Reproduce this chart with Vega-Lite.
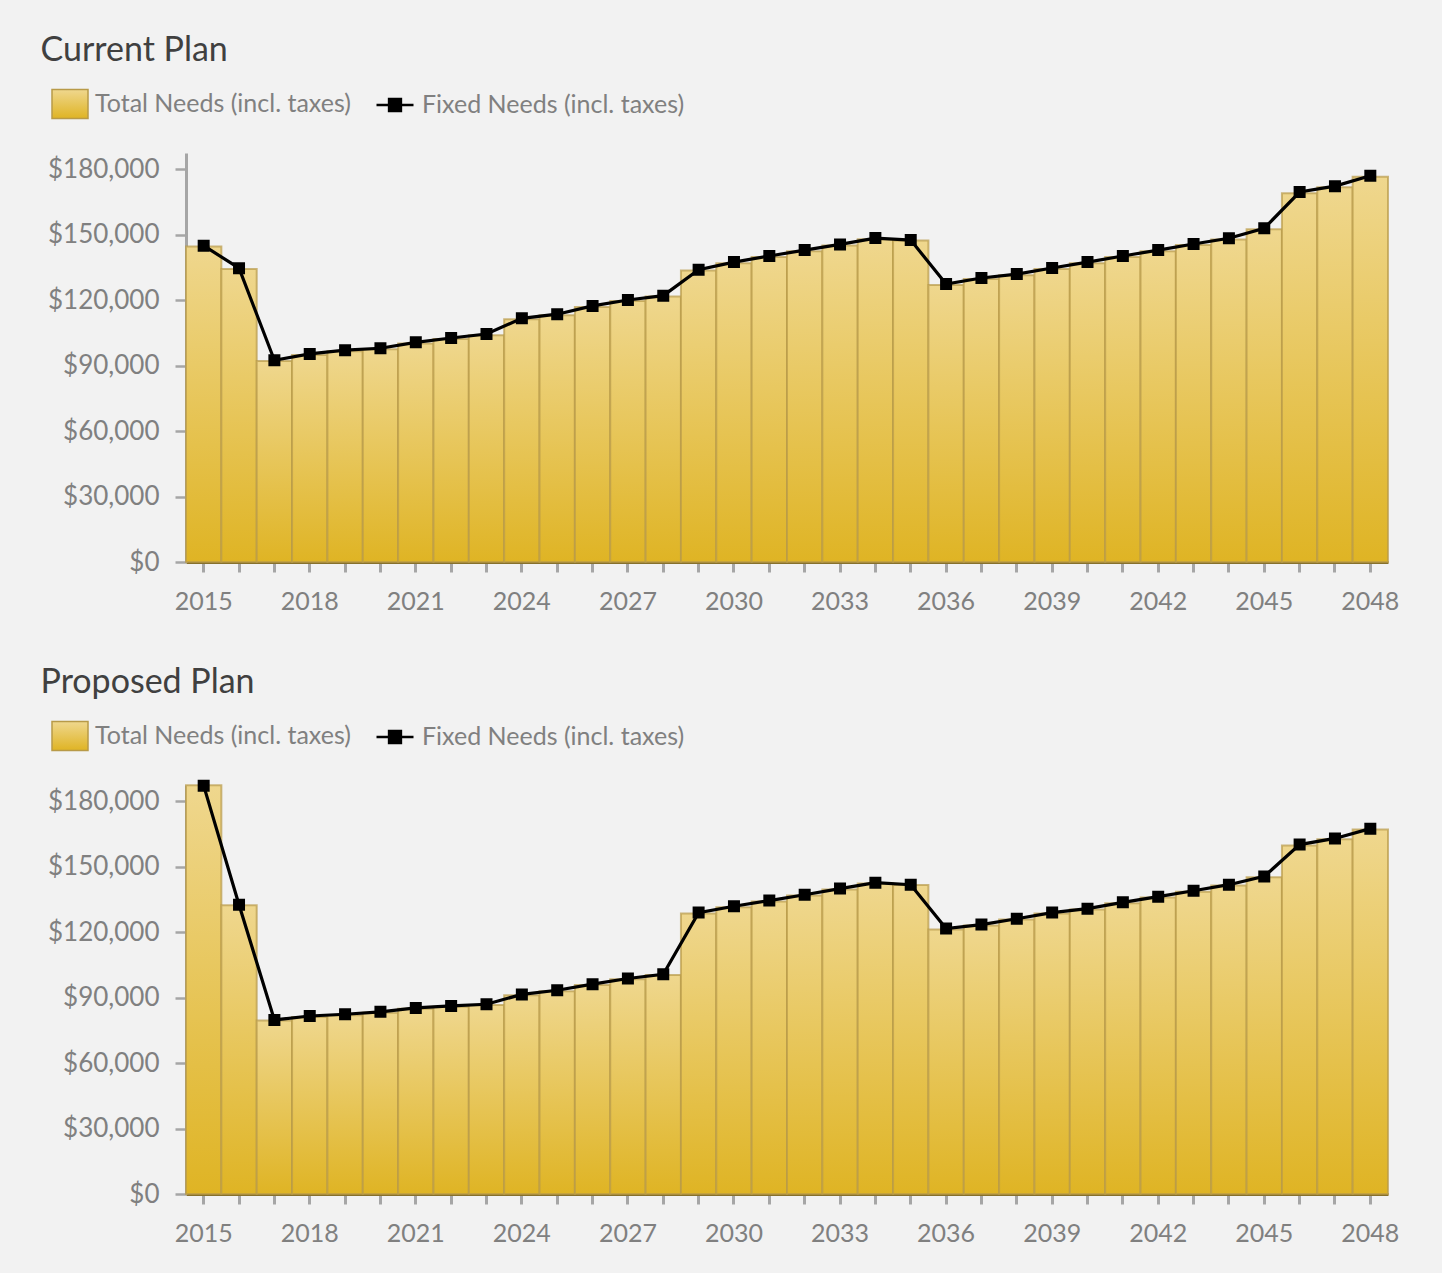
{
  "$schema": "https://vega.github.io/schema/vega-lite/v6.json",
  "background": "#f2f2f2",
  "padding": {"left": 40, "top": 34, "right": 44, "bottom": 40},
  "datasets": {
    "current": [
      {"year": 2015, "total": 144600, "fixed": 145000},
      {"year": 2016, "total": 134300, "fixed": 134700},
      {"year": 2017, "total": 92100, "fixed": 92500},
      {"year": 2018, "total": 94900, "fixed": 95400},
      {"year": 2019, "total": 96600, "fixed": 97100},
      {"year": 2020, "total": 97500, "fixed": 98000},
      {"year": 2021, "total": 100200, "fixed": 100700},
      {"year": 2022, "total": 102200, "fixed": 102700},
      {"year": 2023, "total": 104000, "fixed": 104500},
      {"year": 2024, "total": 111300, "fixed": 111700},
      {"year": 2025, "total": 113100, "fixed": 113600},
      {"year": 2026, "total": 116900, "fixed": 117400},
      {"year": 2027, "total": 119600, "fixed": 120100},
      {"year": 2028, "total": 121700, "fixed": 122100},
      {"year": 2029, "total": 133600, "fixed": 134000},
      {"year": 2030, "total": 137000, "fixed": 137500},
      {"year": 2031, "total": 139800, "fixed": 140300},
      {"year": 2032, "total": 142500, "fixed": 143000},
      {"year": 2033, "total": 145100, "fixed": 145600},
      {"year": 2034, "total": 148000, "fixed": 148500},
      {"year": 2035, "total": 147400, "fixed": 147600},
      {"year": 2036, "total": 127000, "fixed": 127400},
      {"year": 2037, "total": 129700, "fixed": 130200},
      {"year": 2038, "total": 131500, "fixed": 132000},
      {"year": 2039, "total": 134300, "fixed": 134800},
      {"year": 2040, "total": 137000, "fixed": 137500},
      {"year": 2041, "total": 139800, "fixed": 140300},
      {"year": 2042, "total": 142500, "fixed": 143000},
      {"year": 2043, "total": 145300, "fixed": 145800},
      {"year": 2044, "total": 147900, "fixed": 148400},
      {"year": 2045, "total": 152600, "fixed": 153000},
      {"year": 2046, "total": 169100, "fixed": 169600},
      {"year": 2047, "total": 171800, "fixed": 172300},
      {"year": 2048, "total": 176600, "fixed": 177100}
    ],
    "proposed": [
      {"year": 2015, "total": 187400, "fixed": 187200},
      {"year": 2016, "total": 132400, "fixed": 132600},
      {"year": 2017, "total": 79500, "fixed": 79800},
      {"year": 2018, "total": 81200, "fixed": 81600},
      {"year": 2019, "total": 82000, "fixed": 82400},
      {"year": 2020, "total": 83100, "fixed": 83500},
      {"year": 2021, "total": 84900, "fixed": 85300},
      {"year": 2022, "total": 85800, "fixed": 86200},
      {"year": 2023, "total": 86600, "fixed": 87000},
      {"year": 2024, "total": 91100, "fixed": 91500},
      {"year": 2025, "total": 93000, "fixed": 93400},
      {"year": 2026, "total": 95800, "fixed": 96200},
      {"year": 2027, "total": 98400, "fixed": 98800},
      {"year": 2028, "total": 100400, "fixed": 100700},
      {"year": 2029, "total": 128600, "fixed": 129000},
      {"year": 2030, "total": 131500, "fixed": 131900},
      {"year": 2031, "total": 134100, "fixed": 134500},
      {"year": 2032, "total": 136800, "fixed": 137200},
      {"year": 2033, "total": 139600, "fixed": 140000},
      {"year": 2034, "total": 142300, "fixed": 142700},
      {"year": 2035, "total": 141700, "fixed": 141800},
      {"year": 2036, "total": 121300, "fixed": 121700},
      {"year": 2037, "total": 123100, "fixed": 123500},
      {"year": 2038, "total": 125800, "fixed": 126200},
      {"year": 2039, "total": 128600, "fixed": 129000},
      {"year": 2040, "total": 130400, "fixed": 130800},
      {"year": 2041, "total": 133300, "fixed": 133700},
      {"year": 2042, "total": 135900, "fixed": 136300},
      {"year": 2043, "total": 138600, "fixed": 139000},
      {"year": 2044, "total": 141400, "fixed": 141800},
      {"year": 2045, "total": 145200, "fixed": 145600},
      {"year": 2046, "total": 159800, "fixed": 160200},
      {"year": 2047, "total": 162600, "fixed": 163000},
      {"year": 2048, "total": 167100, "fixed": 167500}
    ]
  },
  "spacing": 52,
  "resolve": {
    "scale": {"opacity": "independent", "stroke": "independent"},
    "legend": {"opacity": "independent", "stroke": "independent"}
  },
  "vconcat": [
    {
      "title": {"text": "Current Plan"},
      "width": 1202,
      "height": 409,
      "data": {"name": "current"},
      "layer": [
        {
          "mark": {"type": "bar", "fill": {"gradient": "linear", "x1": 0, "y1": 0, "x2": 0, "y2": 1, "stops": [{"offset": 0, "color": "#efd78e"}, {"offset": 1, "color": "#dfb424"}]}, "stroke": "#b89a48", "strokeOpacity": 0.7, "strokeWidth": 2},
          "encoding": {
            "x": {"field": "year", "type": "ordinal", "scale": {"paddingInner": 0, "paddingOuter": 0}},
            "y": {"field": "total", "type": "quantitative", "scale": {"domain": [0, 187500], "nice": false}, "axis": {"values": [0, 30000, 60000, 90000, 120000, 150000, 180000]}},
            "opacity": {
              "datum": "Total Needs (incl. taxes)",
              "type": "nominal",
              "scale": {"range": [1]},
              "legend": {"orient": "none", "legendX": -135, "legendY": -68, "symbolType": "M-1,-0.8H1V0.8H-1Z", "symbolSize": 1296, "labelOffset": 6,
                "encode": {"symbols": {"update": {"fill": {"value": {"gradient": "linear", "x1": 0, "y1": 0, "x2": 0, "y2": 1, "stops": [{"offset": 0, "color": "#efd78e"}, {"offset": 1, "color": "#dfb424"}]}}, "stroke": {"value": "#c8ab5c"}, "strokeWidth": {"value": 2}, "opacity": {"value": 1}}}}}
            }
          }
        },
        {
          "mark": {"type": "line", "color": "#000000", "strokeWidth": 3.2, "point": {"shape": "square", "size": 100, "filled": true, "color": "#000000"}},
          "encoding": {
            "x": {"field": "year", "type": "ordinal"},
            "y": {"field": "fixed", "type": "quantitative"},
            "stroke": {
              "datum": "Fixed Needs (incl. taxes)",
              "scale": {"range": ["#000000"]},
              "legend": {"orient": "none", "legendX": 189, "legendY": -68, "symbolType": "M-1,0H1M-0.32,-0.32H0.32V0.32H-0.32Z", "symbolSize": 1369, "symbolFillColor": "#000000", "symbolStrokeColor": "#000000", "symbolStrokeWidth": 2.5, "labelOffset": 7}
            }
          }
        }
      ]
    },
    {
      "title": {"text": "Proposed Plan"},
      "width": 1202,
      "height": 409,
      "data": {"name": "proposed"},
      "layer": [
        {
          "mark": {"type": "bar", "fill": {"gradient": "linear", "x1": 0, "y1": 0, "x2": 0, "y2": 1, "stops": [{"offset": 0, "color": "#efd78e"}, {"offset": 1, "color": "#dfb424"}]}, "stroke": "#b89a48", "strokeOpacity": 0.7, "strokeWidth": 2},
          "encoding": {
            "x": {"field": "year", "type": "ordinal", "scale": {"paddingInner": 0, "paddingOuter": 0}},
            "y": {"field": "total", "type": "quantitative", "scale": {"domain": [0, 187500], "nice": false}, "axis": {"values": [0, 30000, 60000, 90000, 120000, 150000, 180000]}},
            "opacity": {
              "datum": "Total Needs (incl. taxes)",
              "type": "nominal",
              "scale": {"range": [1]},
              "legend": {"orient": "none", "legendX": -135, "legendY": -68, "symbolType": "M-1,-0.8H1V0.8H-1Z", "symbolSize": 1296, "labelOffset": 6,
                "encode": {"symbols": {"update": {"fill": {"value": {"gradient": "linear", "x1": 0, "y1": 0, "x2": 0, "y2": 1, "stops": [{"offset": 0, "color": "#efd78e"}, {"offset": 1, "color": "#dfb424"}]}}, "stroke": {"value": "#c8ab5c"}, "strokeWidth": {"value": 2}, "opacity": {"value": 1}}}}}
            }
          }
        },
        {
          "mark": {"type": "line", "color": "#000000", "strokeWidth": 3.2, "point": {"shape": "square", "size": 100, "filled": true, "color": "#000000"}},
          "encoding": {
            "x": {"field": "year", "type": "ordinal"},
            "y": {"field": "fixed", "type": "quantitative"},
            "stroke": {
              "datum": "Fixed Needs (incl. taxes)",
              "scale": {"range": ["#000000"]},
              "legend": {"orient": "none", "legendX": 189, "legendY": -68, "symbolType": "M-1,0H1M-0.32,-0.32H0.32V0.32H-0.32Z", "symbolSize": 1369, "symbolFillColor": "#000000", "symbolStrokeColor": "#000000", "symbolStrokeWidth": 2.5, "labelOffset": 7}
            }
          }
        }
      ]
    }
  ],
  "config": {
    "font": "Lato",
    "view": {"stroke": null},
    "title": {"anchor": "start", "frame": "bounds", "fontSize": 34, "fontWeight": "normal", "color": "#404040", "offset": 17, "dx": -7},
    "legend": {"title": null, "labelFontSize": 25, "labelColor": "#808080", "labelFont": "Lato", "padding": 0, "labelLimit": 0},
    "axisY": {"format": "$,.0f", "title": null, "grid": false, "labelFontSize": 26, "labelColor": "#808080", "tickColor": "#a6a6a6", "tickSize": 11, "tickWidth": 2.5, "domainColor": "#a6a6a6", "domainWidth": 3, "labelPadding": 16},
    "axisX": {"title": null, "labelAngle": 0, "labelExpr": "(datum.value - 2015) % 3 == 0 ? datum.label : ''", "labelFontSize": 25, "labelColor": "#808080", "tickColor": "#a6a6a6", "tickSize": 10, "tickWidth": 3, "domainColor": "#87702a", "domainWidth": 3, "labelPadding": 17, "zindex": 1, "grid": false}
  }
}
